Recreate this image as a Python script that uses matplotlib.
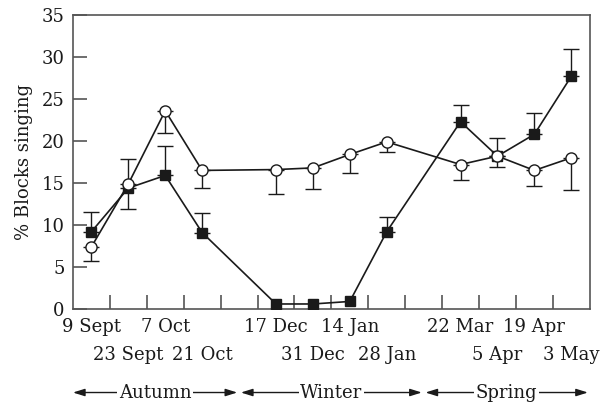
import matplotlib
matplotlib.use("Agg")
import matplotlib.pyplot as plt
import numpy as np
from matplotlib.ticker import FixedLocator, NullFormatter

plt.rcParams['font.family'] = ['DejaVu Serif']

# Sampling dates and their slot on the fortnightly axis
dates = ["9 Sept", "23 Sept", "7 Oct", "21 Oct", "17 Dec", "31 Dec",
         "14 Jan", "28 Jan", "22 Mar", "5 Apr", "19 Apr", "3 May"]
slots = [0.5, 1.5, 2.5, 3.5, 5.5, 6.5, 7.5, 8.5, 10.5, 11.5, 12.5, 13.5]

# Filled squares with upward SE
square_vals = [9.2, 14.4, 15.9, 9.1, 0.6, 0.6, 0.9, 9.2, 22.3, 18.2, 20.8, 27.7]
square_se = [2.4, 3.5, 3.5, 2.3, 0.0, 0.0, 0.0, 1.7, 2.0, 2.2, 2.5, 3.3]

# Open circles with downward SE
circle_vals = [7.4, 14.9, 23.6, 16.5, 16.6, 16.8, 18.4, 19.9, 17.2, 18.2, 16.5, 18.0]
circle_se = [1.7, 3.0, 2.6, 2.1, 2.9, 2.5, 2.2, 1.2, 1.9, 1.3, 1.9, 3.8]

seasons = ["Autumn", "Winter", "Spring"]
season_spans = [(0.0, 4.45), (4.55, 9.45), (9.55, 13.95)]

line_col = "#1a1a1a"
spine_col = "#555555"
fs = 13

fig = plt.figure(figsize=(6.03, 4.08), dpi=100)
ax = fig.add_axes([0.121, 0.2426, 0.857, 0.7206])

x = np.array(slots)
sq = np.array(square_vals)
sq_e = np.array(square_se)
ci = np.array(circle_vals)
ci_e = np.array(circle_se)

# error bars: squares up, circles down
m = sq_e > 0
ax.errorbar(x[m], sq[m], yerr=[np.zeros(m.sum()), sq_e[m]], fmt='none',
            ecolor=line_col, elinewidth=1.0, capsize=6, capthick=1.0, zorder=2)
ax.errorbar(x, ci, yerr=[ci_e, np.zeros(len(ci))], fmt='none',
            ecolor=line_col, elinewidth=1.0, capsize=6, capthick=1.0, zorder=2)

ax.plot(x, sq, '-s', color=line_col, lw=1.2, markersize=7,
        markerfacecolor=line_col, markeredgecolor=line_col, zorder=3)
ax.plot(x, ci, '-o', color=line_col, lw=1.2, markersize=8,
        markerfacecolor='white', markeredgecolor=line_col, markeredgewidth=1.0,
        zorder=4)

ax.set_xlim(0, 14)
ax.set_ylim(0, 35)

for s in ax.spines.values():
    s.set_color(spine_col)
    s.set_linewidth(1.2)

ax.set_yticks(np.arange(0, 36, 5))
ax.tick_params(axis='y', direction='in', length=10, width=1.2, color=spine_col,
               labelsize=fs, labelcolor=line_col, pad=6)

ax.xaxis.set_major_locator(FixedLocator(np.arange(1, 14)))
ax.xaxis.set_major_formatter(NullFormatter())
ax.tick_params(axis='x', which='major', direction='in', length=10, width=1.2,
               color=spine_col)

trans = ax.get_xaxis_transform()

# date labels in two staggered rows
row_y = [-0.062, -0.158]
for i, (d, xs) in enumerate(zip(dates, slots)):
    ax.text(xs, row_y[i % 2], d, transform=trans, ha='center', va='center',
            fontsize=fs, color=line_col, clip_on=False)

ax.set_ylabel("% Blocks singing", fontsize=fs, color=line_col, labelpad=6)

# season brackets below the date labels
y_season = -0.284
for name, (a, b) in zip(seasons, season_spans):
    ax.annotate("", xy=(b, y_season), xytext=(a, y_season), xycoords=trans,
                textcoords=trans,
                arrowprops=dict(arrowstyle="<|-|>,head_length=0.7,head_width=0.22",
                                color=line_col, lw=1.0, shrinkA=0, shrinkB=0),
                annotation_clip=False)
    ax.text((a + b) / 2, y_season, name, transform=trans, ha='center',
            va='center', fontsize=fs, color=line_col, clip_on=False,
            bbox=dict(facecolor='white', edgecolor='none', pad=1.0))

fig.savefig("out.png", dpi=100)
